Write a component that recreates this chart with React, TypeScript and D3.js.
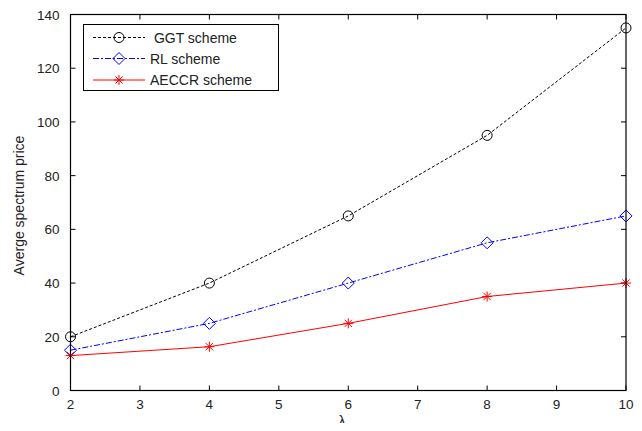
import React, { useRef, useEffect } from "react";
import * as d3 from "d3";

const lambdas = [2, 4, 6, 8, 10];
const ggt = [20, 40, 65, 95, 135];
const rl = [15, 25, 40, 55, 65];
const aeccr = [13, 16.3, 25, 35, 40];
const xTicks = [2, 3, 4, 5, 6, 7, 8, 9, 10];
const yTicks = [0, 20, 40, 60, 80, 100, 120, 140];
const seriesNames = [" GGT scheme", "RL scheme", "AECCR scheme"];

const App = () => {
  const ref = useRef<SVGSVGElement>(null);
  const width = 642;
  const height = 431;
  const m = { left: 70.5, right: 16, top: 14.5, bottom: 40.5 };

  useEffect(() => {
    const svg = d3.select(ref.current);
    svg.selectAll("*").remove();
    const font = "Liberation Sans, Arial, sans-serif";

    const x = d3.scaleLinear().domain([2, 10]).range([m.left, width - m.right]);
    const y = d3.scaleLinear().domain([0, 140]).range([height - m.bottom, m.top]);
    const x0 = x.range()[0], x1 = x.range()[1];
    const y0 = y.range()[0], y1 = y.range()[1];

    svg.append("rect").attr("width", width).attr("height", height).attr("fill", "white");

    // ticks (inward, all four sides)
    const tk = 5;
    const g = svg.append("g").attr("stroke", "#000").attr("stroke-width", 1);
    xTicks.forEach((t) => {
      g.append("line").attr("x1", x(t)).attr("x2", x(t)).attr("y1", y0).attr("y2", y0 - tk);
      g.append("line").attr("x1", x(t)).attr("x2", x(t)).attr("y1", y1).attr("y2", y1 + tk);
    });
    yTicks.forEach((t) => {
      g.append("line").attr("x1", x0).attr("x2", x0 + tk).attr("y1", y(t)).attr("y2", y(t));
      g.append("line").attr("x1", x1).attr("x2", x1 - tk).attr("y1", y(t)).attr("y2", y(t));
    });

    const labels = svg.append("g").attr("font-family", font).attr("fill", "#222");
    xTicks.forEach((t) => {
      labels.append("text").attr("x", x(t)).attr("y", y0 + 18).attr("text-anchor", "middle")
        .attr("font-size", 13.5).text(t);
    });
    yTicks.forEach((t) => {
      labels.append("text").attr("x", x0 - 11).attr("y", y(t) + 5).attr("text-anchor", "end")
        .attr("font-size", 13.5).text(t);
    });

    labels.append("text").attr("x", 342).attr("y", y0 + 35).attr("text-anchor", "middle")
      .attr("font-size", 14).text("λ");
    labels.append("text")
      .attr("transform", `translate(24,${(y0 + y1) / 2 + 3}) rotate(-90)`)
      .attr("text-anchor", "middle")
      .attr("font-size", 14)
      .text("Averge spectrum price");

    const series = [
      { data: ggt, color: "#000", dash: "3,2", marker: "circle" },
      { data: rl, color: "#0000ff", dash: "6,2,2,2", marker: "diamond" },
      { data: aeccr, color: "#ff0000", dash: null, marker: "star" },
    ];

    const drawMarker = (sel: any, type: string, cx: number, cy: number, color: string) => {
      if (type === "circle") {
        sel.append("circle").attr("cx", cx).attr("cy", cy).attr("r", 5)
          .attr("fill", "none").attr("stroke", color).attr("stroke-width", 1);
      } else if (type === "diamond") {
        const s = 6;
        sel.append("path")
          .attr("d", `M${cx},${cy - s}L${cx + s},${cy}L${cx},${cy + s}L${cx - s},${cy}Z`)
          .attr("fill", "none").attr("stroke", color).attr("stroke-width", 1);
      } else {
        const s = 5, d = 3.6;
        sel.append("path")
          .attr("d", `M${cx - s},${cy}L${cx + s},${cy}M${cx},${cy - s}L${cx},${cy + s}M${cx - d},${cy - d}L${cx + d},${cy + d}M${cx - d},${cy + d}L${cx + d},${cy - d}`)
          .attr("fill", "none").attr("stroke", color).attr("stroke-width", 1);
      }
    };

    const line = d3.line<number>().x((_, i) => x(lambdas[i])).y((d) => y(d));
    series.forEach((s) => {
      const p = svg.append("path").attr("d", line(s.data)).attr("fill", "none")
        .attr("stroke", s.color).attr("stroke-width", 1);
      if (s.dash) p.attr("stroke-dasharray", s.dash);
      const mg = svg.append("g");
      s.data.forEach((v, i) => drawMarker(mg, s.marker, x(lambdas[i]), y(v), s.color));
    });

    // axes box
    svg.append("rect").attr("x", x0).attr("y", y1).attr("width", x1 - x0).attr("height", y0 - y1)
      .attr("fill", "none").attr("stroke", "#000").attr("stroke-width", 1.2);

    // legend
    const lg = svg.append("g");
    lg.append("rect").attr("x", 83.5).attr("y", 24.5).attr("width", 195).attr("height", 66)
      .attr("fill", "white").attr("stroke", "#000").attr("stroke-width", 1);
    const rows = [37.5, 58.5, 80];
    series.forEach((s, i) => {
      const ly = rows[i];
      const l = lg.append("line").attr("x1", 93).attr("x2", 145).attr("y1", ly).attr("y2", ly)
        .attr("stroke", s.color).attr("stroke-width", 1);
      if (s.dash) l.attr("stroke-dasharray", s.dash);
      drawMarker(lg, s.marker, 119, ly, s.color);
      lg.append("text").attr("x", 150).attr("y", ly + 5).attr("font-family", font)
        .attr("font-size", 14).attr("fill", "#222").attr("xml:space", "preserve")
        .style("white-space", "pre").text(seriesNames[i]);
    });
  }, []);

  return (
    <div>
      <svg ref={ref} width={width} height={height} style={{ display: "block", margin: -8 }} />
    </div>
  );
};

export default App;
